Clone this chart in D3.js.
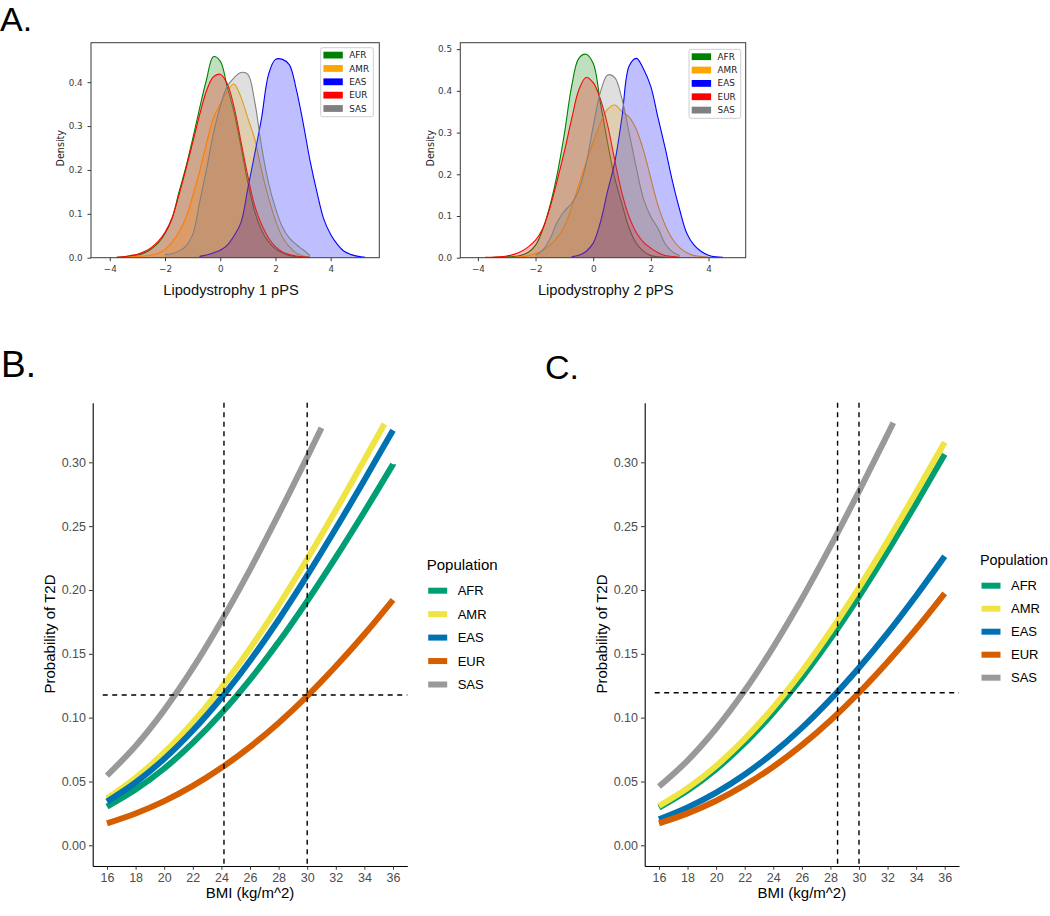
<!DOCTYPE html>
<html><head><meta charset="utf-8">
<script src="https://cdn.jsdelivr.net/npm/d3@7"></script>
<style>body{margin:0;background:#fff}svg{display:block}</style>
</head><body><svg id="c" width="1050" height="916"></svg>
<script>
const n = null;
const populations = ["AFR", "AMR", "EAS", "EUR", "SAS"];
const kdeColors = ["green", "orange", "blue", "red", "gray"];
const ggColors = ["#009E73", "#F0E442", "#0072B2", "#D55E00", "#999999"];

// KDE grid (pPS values)
const kdeGrid = [-4,-3.75,-3.5,-3.25,-3,-2.75,-2.5,-2.25,-2,-1.75,-1.5,-1.25,-1,-0.75,-0.5,-0.25,0,0.25,0.5,0.75,1,1.25,1.5,1.75,2,2.25,2.5,2.75,3,3.25,3.5,3.75,4,4.25,4.5,4.75,5,5.25,5.5];

// Lipodystrophy 1 pPS densities
const lipo1_AFR = [n,.001,.002,.004,.006,.011,.02,.033,.055,.088,.148,.205,.27,.34,.405,.458,.448,.39,.332,.254,.171,.105,.062,.036,.02,.011,.005,.002,.001,n,n,n,n,n,n,n,n,n,n];
const lipo1_AMR = [n,n,.001,.002,.003,.004,.006,.01,.019,.035,.058,.09,.14,.196,.26,.318,.35,.38,.396,.366,.318,.27,.198,.137,.085,.047,.025,.011,.004,.001,n,n,n,n,n,n,n,n,n];
const lipo1_EAS = [n,n,n,n,n,n,n,n,n,n,n,n,n,.003,.006,.011,.017,.028,.05,.08,.158,.237,.32,.418,.452,.452,.44,.385,.308,.222,.15,.088,.053,.03,.014,.007,.003,.001,n];
const lipo1_EUR = [n,.001,.002,.005,.008,.014,.023,.037,.058,.09,.142,.2,.262,.325,.38,.412,.418,.397,.344,.265,.186,.118,.075,.045,.025,.013,.007,.004,.002,.001,n,n,n,n,n,n,n,n,n];
const lipo1_SAS = [n,n,n,n,n,n,n,n,.007,.009,.015,.026,.052,.125,.2,.282,.345,.39,.41,.422,.418,.355,.252,.17,.113,.07,.045,.03,.018,.005,n,n,n,n,n,n,n,n,n];

// Lipodystrophy 2 pPS densities
const lipo2_AFR = [n,n,.001,.001,.002,.003,.006,.013,.03,.068,.125,.2,.297,.41,.478,.488,.466,.372,.275,.19,.128,.07,.034,.015,.005,.002,.001,n,n,n,n,n,n,n,n,n,n,n,n];
const lipo2_AMR = [n,n,n,n,n,.001,.002,.005,.01,.018,.03,.048,.075,.12,.175,.228,.277,.322,.356,.366,.35,.337,.307,.256,.19,.125,.078,.045,.024,.012,.005,.003,.001,n,n,n,n,n,n];
const lipo2_EAS = [n,n,n,n,n,n,n,n,n,n,n,n,n,.002,.006,.015,.035,.085,.16,.23,.338,.46,.478,.452,.41,.335,.262,.183,.115,.058,.03,.015,.006,.002,.001,n,n,n,n];
const lipo2_EUR = [n,.001,.001,.002,.004,.008,.015,.026,.042,.07,.12,.185,.255,.332,.402,.432,.42,.38,.318,.233,.154,.097,.06,.037,.023,.012,.005,.003,.001,n,n,n,n,n,n,n,n,n,n];
const lipo2_SAS = [n,n,n,n,n,n,n,n,.006,.018,.045,.085,.112,.13,.162,.224,.315,.397,.438,.432,.38,.298,.214,.14,.098,.07,.033,.014,.005,n,n,n,n,n,n,n,n,n,n];

// Probability of T2D by BMI
const bmiFull = [16,18,20,22,24,26,28,30,32,34,36];
const bmiB_AMR = [16,18,20,22,24,26,28,30,32,34,35.4];
const bmiB_SAS = [16,18,20,22,24,26,28,30,31];
const bmiC_SAS = [16,18,20,22,24,26,28,30,32,32.4];

const probB_AFR = [0.0303,0.0437,0.0602,0.0802,0.1034,0.1298,0.1592,0.1913,0.2255,0.2613,0.2984];
const probB_AMR = [0.0368,0.0529,0.0727,0.0963,0.1236,0.1542,0.1880,0.2243,0.2625,0.3020,0.3300];
const probB_EAS = [0.0342,0.0492,0.0677,0.0899,0.1156,0.1446,0.1767,0.2114,0.2481,0.2862,0.3252];
const probB_EUR = [0.0172,0.0249,0.0346,0.0465,0.0607,0.0771,0.0959,0.1169,0.1402,0.1653,0.1923];
const probB_SAS = [0.0546,0.0778,0.1059,0.1387,0.1757,0.2160,0.2592,0.3041,0.3270];

const probC_AFR = [0.0295,0.0429,0.0597,0.0800,0.1039,0.1311,0.1617,0.1949,0.2304,0.2678,0.3064];
const probC_AMR = [0.0308,0.0448,0.0622,0.0833,0.1080,0.1362,0.1677,0.2019,0.2383,0.2766,0.3158];
const probC_EAS = [0.0204,0.0297,0.0413,0.0555,0.0724,0.0920,0.1143,0.1391,0.1662,0.1955,0.2264];
const probC_EUR = [0.0172,0.0250,0.0349,0.0471,0.0616,0.0785,0.0978,0.1195,0.1435,0.1695,0.1974];
const probC_SAS = [0.0460,0.0664,0.0915,0.1212,0.1553,0.1931,0.2341,0.2773,0.3219,0.3310];

const refB_bmi = [24.18, 30];
const refB_prob = 0.1177;
const refC_bmi = [28.5, 30];
const refC_prob = 0.1195;

const kdeXTicks = [-4, -2, 0, 2, 4];
const kde1YTicks = [0, 0.1, 0.2, 0.3, 0.4];
const kde2YTicks = [0, 0.1, 0.2, 0.3, 0.4, 0.5];
const bmiTicks = [16,18,20,22,24,26,28,30,32,34,36];
const probTicks = [0, 0.05, 0.10, 0.15, 0.20, 0.25, 0.30];

const svg = d3.select("#c");
const SANS = "'Liberation Sans', Arial, Helvetica, sans-serif";
const MPL = "'DejaVu Sans', sans-serif";

// Panel letters
svg.append("text").attr("x", 0).attr("y", 31).attr("font-family", SANS).attr("font-size", 34).text("A.");
svg.append("text").attr("x", 1).attr("y", 377).attr("font-family", SANS).attr("font-size", 37).text("B.");
svg.append("text").attr("x", 545).attr("y", 379).attr("font-family", SANS).attr("font-size", 34).text("C.");

function kdePanel(cfg) {
  const g = svg.append("g");
  const x = d3.scaleLinear().domain(cfg.xDomain).range([cfg.left, cfg.right]);
  const y = d3.scaleLinear().domain(cfg.yDomain).range([cfg.bottom, cfg.top]);
  const clipId = "clip" + cfg.id;
  svg.append("clipPath").attr("id", clipId).append("rect")
    .attr("x", cfg.left).attr("y", cfg.top).attr("width", cfg.right - cfg.left).attr("height", cfg.bottom - cfg.top);
  const plot = g.append("g").attr("clip-path", `url(#${clipId})`);
  const pts = vals => kdeGrid.map((gx, i) => ({x: gx, y: vals[i]}));
  const area = d3.area().defined(d => d.y != null).x(d => x(d.x)).y0(y(0)).y1(d => y(Math.max(0, d.y))).curve(d3.curveCatmullRom);
  const line = d3.line().defined(d => d.y != null).x(d => x(d.x)).y(d => y(Math.max(0, d.y))).curve(d3.curveCatmullRom);
  cfg.series.forEach((vals, i) => {
    const p = pts(vals);
    plot.append("path").attr("d", area(p)).attr("fill", kdeColors[i]).attr("fill-opacity", 0.25);
    plot.append("path").attr("d", line(p)).attr("fill", "none").attr("stroke", kdeColors[i]).attr("stroke-width", 1.1);
  });
  g.append("rect").attr("x", cfg.left).attr("y", cfg.top).attr("width", cfg.right - cfg.left).attr("height", cfg.bottom - cfg.top)
    .attr("fill", "none").attr("stroke", "#3a3a3a").attr("stroke-width", 1);
  const fmtMinus = d => d < 0 ? "\u2212" + Math.abs(d) : String(d);
  const xa = g.append("g").attr("transform", `translate(0,${cfg.bottom})`)
    .call(d3.axisBottom(x).tickValues(kdeXTicks).tickFormat(fmtMinus).tickSize(3.5).tickPadding(4.5));
  const ya = g.append("g").attr("transform", `translate(${cfg.left},0)`)
    .call(d3.axisLeft(y).tickValues(cfg.yTicks).tickFormat(d3.format(".1f")).tickSize(3.5).tickPadding(4.8));
  [xa, ya].forEach(a => {
    a.select(".domain").remove();
    a.selectAll("line").attr("stroke", "#3a3a3a");
    a.selectAll("text").attr("font-family", MPL).attr("font-size", 8.8).attr("fill", "#3a3a3a");
  });
  g.append("text").attr("transform", `translate(${cfg.ylabX},${(cfg.top + cfg.bottom) / 2 - 2}) rotate(-90)`)
    .attr("text-anchor", "middle").attr("font-family", MPL).attr("font-size", 9.6).attr("fill", "#222").text("Density");
  g.append("text").attr("x", cfg.xlabX).attr("y", 295).attr("text-anchor", "middle")
    .attr("font-family", SANS).attr("font-size", 14.7).attr("fill", "#111").text(cfg.xlab);
  // legend
  const L = cfg.legend;
  g.append("rect").attr("x", L.x).attr("y", L.y).attr("width", L.w).attr("height", L.h).attr("rx", 2)
    .attr("fill", "#fff").attr("fill-opacity", 0.8).attr("stroke", "#cfcfcf").attr("stroke-width", 1);
  populations.forEach((p, i) => {
    const cy = L.y + 7.4 + i * 13.35;
    g.append("rect").attr("x", L.x + 2.7).attr("y", cy - 3.4).attr("width", 19.4).attr("height", 6.8).attr("fill", kdeColors[i]);
    g.append("text").attr("x", L.x + 28.6).attr("y", cy).attr("dy", "0.35em")
      .attr("font-family", MPL).attr("font-size", 8.8).attr("fill", "#222").text(p);
  });
}

kdePanel({id: 1, left: 91, right: 379.3, top: 42.7, bottom: 257.7, xDomain: [-4.68, 5.76], yDomain: [0, 0.49],
  yTicks: kde1YTicks, series: [lipo1_AFR, lipo1_AMR, lipo1_EAS, lipo1_EUR, lipo1_SAS],
  ylabX: 64, xlabX: 231, xlab: "Lipodystrophy 1 pPS", legend: {x: 320.7, y: 47.7, w: 52.6, h: 69}});
kdePanel({id: 2, left: 460.3, right: 745.7, top: 42.7, bottom: 257.7, xDomain: [-4.61, 5.29], yDomain: [0, 0.5155],
  yTicks: kde2YTicks, series: [lipo2_AFR, lipo2_AMR, lipo2_EAS, lipo2_EUR, lipo2_SAS],
  ylabX: 433.5, xlabX: 605.7, xlab: "Lipodystrophy 2 pPS", legend: {x: 689, y: 49.3, w: 51.7, h: 69}});

function ggPanel(cfg) {
  const g = svg.append("g");
  const x = d3.scaleLinear().domain([15, 37]).range([cfg.left, cfg.right]);
  const y = d3.scaleLinear().domain([-0.0162, 0.3467]).range([866, 402.7]);
  const line = d3.line().x(d => x(d[0])).y(d => y(d[1])).curve(d3.curveCatmullRom);
  cfg.series.forEach((s, i) => {
    const p = s.bmi.map((b, j) => [b, s.prob[j]]);
    g.append("path").attr("d", line(p)).attr("fill", "none").attr("stroke", ggColors[i]).attr("stroke-width", 6);
  });
  const dash = "5,4.5";
  cfg.vlines.forEach(v => {
    g.append("line").attr("x1", x(v)).attr("x2", x(v)).attr("y1", 402.7).attr("y2", 866)
      .attr("stroke", "#000").attr("stroke-width", 1.4).attr("stroke-dasharray", dash);
  });
  g.append("line").attr("x1", x(15.7)).attr("x2", cfg.right).attr("y1", y(cfg.hline)).attr("y2", y(cfg.hline))
    .attr("stroke", "#000").attr("stroke-width", 1.4).attr("stroke-dasharray", dash);
  const xa = g.append("g").attr("transform", "translate(0,866)")
    .call(d3.axisBottom(x).tickValues(bmiTicks).tickSize(3.7).tickSizeOuter(0).tickPadding(3.4));
  const ya = g.append("g").attr("transform", `translate(${cfg.left},0)`)
    .call(d3.axisLeft(y).tickValues(probTicks).tickFormat(d3.format(".2f")).tickSize(3.7).tickSizeOuter(0).tickPadding(3));
  [xa, ya].forEach(a => {
    a.select(".domain").attr("stroke", "#000").attr("stroke-width", 1.1);
    a.selectAll(".tick line").attr("stroke", "#333").attr("stroke-width", 1);
    a.selectAll("text").attr("font-family", SANS).attr("font-size", 12.5).attr("fill", "#4D4D4D");
  });
  g.append("text").attr("transform", `translate(${cfg.ylabX},634) rotate(-90)`).attr("text-anchor", "middle")
    .attr("dy", "0.35em").attr("font-family", SANS).attr("font-size", 15).attr("fill", "#000").text("Probability of T2D");
  g.append("text").attr("x", (cfg.left + cfg.right) / 2).attr("y", 893).attr("dy", "0.35em").attr("text-anchor", "middle")
    .attr("font-family", SANS).attr("font-size", 15).attr("fill", "#000").text("BMI (kg/m^2)");
  // legend
  const L = cfg.legend;
  g.append("text").attr("x", L.x).attr("y", L.titleY).attr("dy", "0.35em").attr("font-family", SANS)
    .attr("font-size", L.titleSize).attr("fill", "#000").text("Population");
  populations.forEach((p, i) => {
    const cy = L.rowY + i * L.step;
    g.append("line").attr("x1", L.x + 1.5).attr("x2", L.x + 20.5).attr("y1", cy).attr("y2", cy)
      .attr("stroke", ggColors[i]).attr("stroke-width", 6);
    g.append("text").attr("x", L.x + 31).attr("y", cy).attr("dy", "0.35em").attr("font-family", SANS)
      .attr("font-size", 13).attr("fill", "#000").text(p);
  });
}

ggPanel({left: 92.7, right: 407.3, ylabX: 49.3,
  series: [{bmi: bmiFull, prob: probB_AFR}, {bmi: bmiB_AMR, prob: probB_AMR}, {bmi: bmiFull, prob: probB_EAS},
           {bmi: bmiFull, prob: probB_EUR}, {bmi: bmiB_SAS, prob: probB_SAS}],
  vlines: refB_bmi, hline: refB_prob,
  legend: {x: 426.7, titleY: 564.3, rowY: 590.7, step: 23.45, titleSize: 15}});
ggPanel({left: 644.7, right: 959, ylabX: 601.7,
  series: [{bmi: bmiFull, prob: probC_AFR}, {bmi: bmiFull, prob: probC_AMR}, {bmi: bmiFull, prob: probC_EAS},
           {bmi: bmiFull, prob: probC_EUR}, {bmi: bmiC_SAS, prob: probC_SAS}],
  vlines: refC_bmi, hline: refC_prob,
  legend: {x: 980, titleY: 560, rowY: 585.7, step: 23, titleSize: 14.4}});
</script>
</body></html>
